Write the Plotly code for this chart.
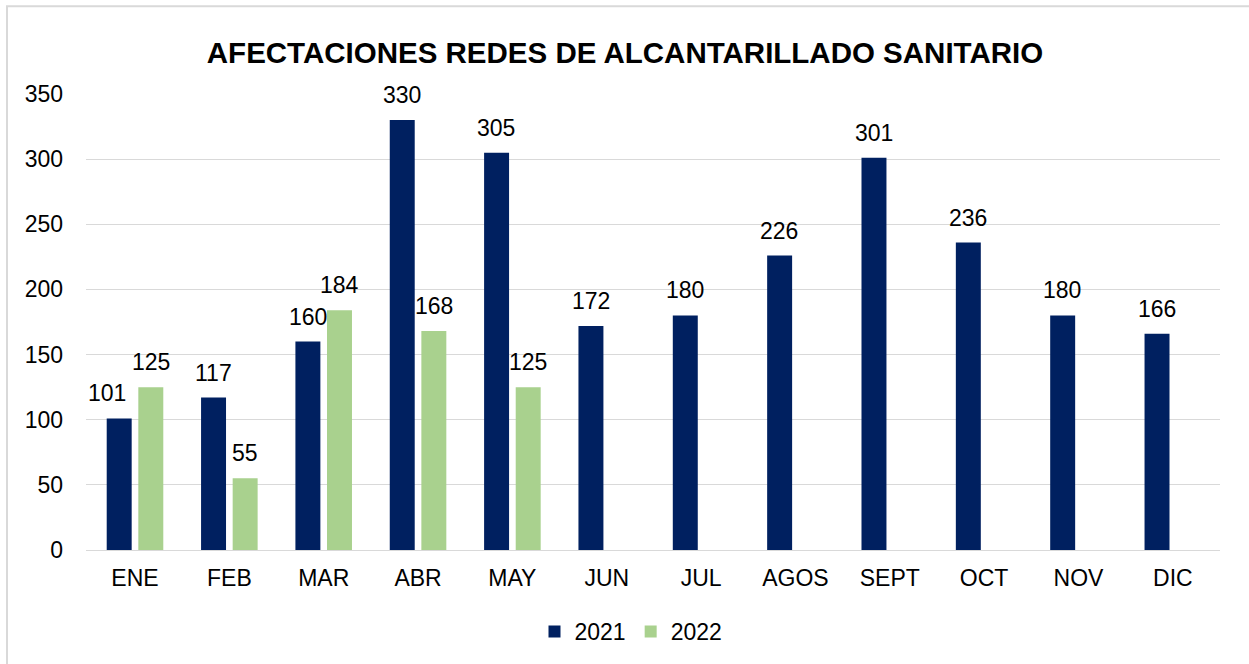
import plotly.graph_objects as go

# Monthly sewer-network incidents
meses = ["ENE", "FEB", "MAR", "ABR", "MAY", "JUN", "JUL", "AGOS", "SEPT", "OCT", "NOV", "DIC"]
valores_2021 = [101, 117, 160, 330, 305, 172, 180, 226, 301, 236, 180, 166]
valores_2022 = [125, 55, 184, 168, 125, None, None, None, None, None, None, None]
y_ticks = [0, 50, 100, 150, 200, 250, 300, 350]

COLOR_2021 = "#002060"
COLOR_2022 = "#A9D18E"
FONT = "Liberation Sans, Arial, sans-serif"

# extra horizontal nudge (px) for labels that would crowd a neighbouring bar
LABEL_NUDGE = {("2021", "ENE"): -12}

fig = go.Figure()
fig.add_trace(go.Bar(name="2021", x=meses, y=valores_2021, marker_color=COLOR_2021,
                     marker_line_width=0))
fig.add_trace(go.Bar(name="2022", x=meses, y=valores_2022, marker_color=COLOR_2022,
                     marker_line_width=0))

# value labels above each bar
annotations = []
for nombre, serie, shift in (("2021", valores_2021, -16), ("2022", valores_2022, 16)):
    for mes, v in zip(meses, serie):
        if v is None:
            continue
        annotations.append(dict(x=mes, y=v, text=str(v), showarrow=False,
                                xshift=shift + LABEL_NUDGE.get((nombre, mes), 0),
                                yshift=25, yanchor="middle",
                                font=dict(size=23, color="#000000", family=FONT)))

fig.update_layout(
    width=1249, height=664,
    margin=dict(l=86, r=29, t=94, b=113),
    paper_bgcolor="white", plot_bgcolor="white",
    font=dict(family=FONT, size=23, color="#000000"),
    title=dict(text="<b>AFECTACIONES REDES DE ALCANTARILLADO SANITARIO</b>",
               x=625 / 1249, xanchor="center", y=1 - 53 / 664, yanchor="middle",
               font=dict(size=29.5, color="#000000", family=FONT)),
    barmode="group", bargap=0.33, bargroupgap=0.21,
    showlegend=True,
    legend=dict(orientation="h", x=0.5 - 22 / 1134, xanchor="center", y=-0.176,
                yanchor="middle", font=dict(size=23), itemwidth=30,
                traceorder="normal"),
    annotations=annotations,
    shapes=[dict(type="rect", xref="paper", yref="paper",
                 x0=-79 / 1134, x1=1.1, y0=-0.4, y1=1 + 88 / 457,
                 line=dict(color="#D9D9D9", width=2), layer="below")],
)
fig.update_xaxes(showgrid=False, showline=True, linecolor="#D9D9D9", linewidth=1,
                 ticks="", tickfont=dict(size=23), ticklabelstandoff=7)
fig.update_yaxes(range=[0, 350], tickvals=y_ticks, showgrid=True, gridcolor="#D9D9D9",
                 gridwidth=1, zeroline=False, showline=False, ticks="",
                 tickfont=dict(size=23), ticklabelstandoff=22)

fig.write_html("out.html")
